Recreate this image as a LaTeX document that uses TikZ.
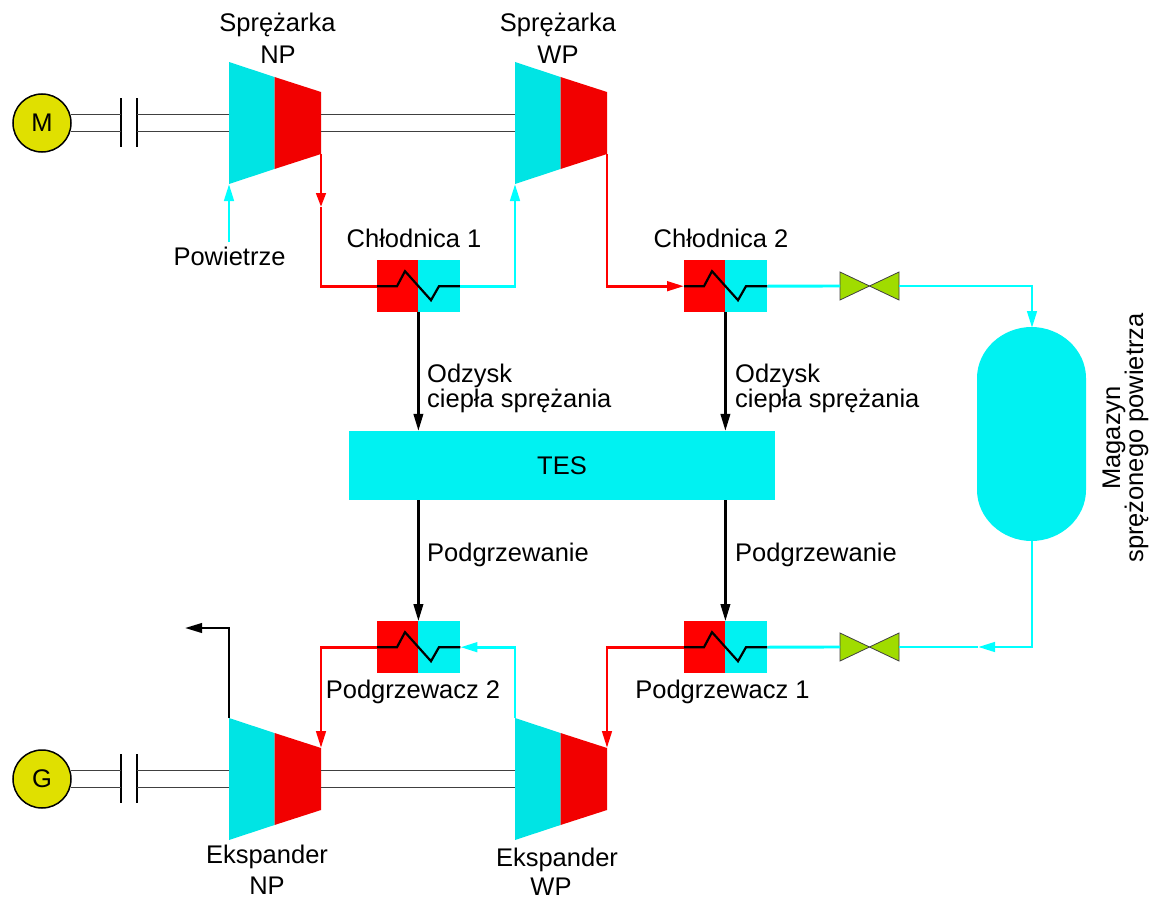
\documentclass[tikz,border=0pt]{standalone}
\usepackage{fontspec}
\setmainfont{Liberation Sans}
\usetikzlibrary{arrows.meta,calc}
\definecolor{tcyan}{HTML}{00E4E4}
\definecolor{tred}{HTML}{F20000}
\definecolor{hred}{HTML}{FF0000}
\definecolor{hcyan}{HTML}{00F2F2}
\definecolor{lcyan}{HTML}{00FFFF}
\definecolor{vgreen}{HTML}{A0DC00}
\definecolor{myellow}{HTML}{E0E000}
\definecolor{shaftc}{HTML}{404040}
\tikzset{
  lbl/.style={anchor=base,inner sep=0,font=\fontsize{25.5}{30}\selectfont},
  lblw/.style={anchor=base west,inner sep=0,font=\fontsize{25.5}{30}\selectfont},
  hxr/.style={fill=hred,minimum width=41pt,minimum height=52pt,inner sep=0,anchor=north west},
  hxc/.style={fill=hcyan,minimum width=42pt,minimum height=52pt,inner sep=0,anchor=north west},
  machine/.style={circle,draw=black,line width=1.5pt,fill=myellow,minimum size=58pt,inner sep=0,font=\fontsize{25.5}{30}\selectfont},
  redline/.style={draw=hred,line width=2.9pt,line join=miter},
  cyline/.style={draw=lcyan,line width=2.9pt,line join=miter},
  blline/.style={draw=black,line width=2.4pt,line join=miter},
  tipr/.style={-{Triangle[length=17pt,width=9.5pt]}},
  tipshort/.style={-{Triangle[length=14pt,width=9.5pt]}},
  shaft/.style={draw=shaftc,line width=1.1pt},
  couple/.style={draw=black,line width=2.4pt},
  zig/.style={draw=black,line width=2.2pt,line join=miter},
  valveside/.style={fill=vgreen,draw=shaftc,line width=.8pt,line join=miter}
}
% turbine stage: name, left x, top y
\newcommand{\turbo}[3]{%
  \coordinate (#1-tl) at (#2,#3);
  \coordinate (#1-bl) at (#2,#3+122);
  \coordinate (#1-tm) at (#2+45.5,#3+15);
  \coordinate (#1-bm) at (#2+45.5,#3+107);
  \coordinate (#1-tr) at (#2+92,#3+30);
  \coordinate (#1-br) at (#2+92,#3+92);
  \fill[tcyan] (#1-tl) -- (#1-tm) -- (#1-bm) -- (#1-bl) -- cycle;
  \fill[tred] (#1-tm) -- (#1-tr) -- (#1-br) -- (#1-bm) -- cycle;
}
% heat exchanger: name, left x, top y
\newcommand{\hx}[3]{%
  \node[hxr] (#1r) at (#2,#3) {};
  \node[hxc] (#1c) at (#2+41,#3) {};
  \draw[zig] (#1r.west) -- ++(20,0) -- ++(8,-15) -- ++(26,29) -- ++(8,-14) -- (#1c.east);
}
% valve: name, centre x, centre y
\newcommand{\valve}[3]{%
  \coordinate (#1) at (#2,#3);
  \coordinate (#1-w) at (#2-29.5,#3);
  \coordinate (#1-e) at (#2+29.5,#3);
  \draw[valveside] (#1) -- (#2-29.5,#3-14) -- (#2-29.5,#3+14) -- cycle;
  \draw[valveside] (#1) -- (#2+29.5,#3-14) -- (#2+29.5,#3+14) -- cycle;
}
\begin{document}
\begin{tikzpicture}[x=1pt,y=-1pt]
\useasboundingbox (0,0) rectangle (1149,899);
% machines
\turbo{cl}{229}{62}
\turbo{ch}{515}{62}
\turbo{el}{229}{718}
\turbo{eh}{515}{718}
\node[machine] (m) at (42,123) {M};
\node[machine] (g) at (42,779) {G};
% couplings
\coordinate (ca1) at (121,123); \coordinate (ca2) at (137,123);
\coordinate (cb1) at (121,779); \coordinate (cb2) at (137,779);
\draw[couple] ($(ca1)+(0,-25)$) -- ($(ca1)+(0,24)$);
\draw[couple] ($(ca2)+(0,-25)$) -- ($(ca2)+(0,24)$);
\draw[couple] ($(cb1)+(0,-25)$) -- ($(cb1)+(0,24)$);
\draw[couple] ($(cb2)+(0,-25)$) -- ($(cb2)+(0,24)$);
% shafts
\foreach \a in {16,-16}{
  \draw[shaft] (m.\a) -- (m.\a -| ca1);
  \draw[shaft] (m.\a -| ca2) -- (m.\a -| cl-tl);
  \draw[shaft] (m.\a -| cl-tr) -- (m.\a -| ch-tl);
  \draw[shaft] (g.\a) -- (g.\a -| cb1);
  \draw[shaft] (g.\a -| cb2) -- (g.\a -| el-tl);
  \draw[shaft] (g.\a -| el-tr) -- (g.\a -| eh-tl);
}
% heat exchangers
\hx{a}{377}{260}
\hx{b}{684}{260}
\hx{c}{377}{621}
\hx{d}{684}{621}
% TES
\node[fill=hcyan,minimum width=426pt,minimum height=69pt,inner sep=0,font=\fontsize{25.5}{30}\selectfont] (tes) at (562,465.5) {TES};
% tank
\fill[hcyan] (977,378) .. controls (977,350) and (1002,327) .. (1031.5,327)
   .. controls (1061,327) and (1086,350) .. (1086,378)
   -- (1086,490) .. controls (1086,518) and (1061,541) .. (1031.5,541)
   .. controls (1002,541) and (977,518) .. (977,490) -- cycle;
\coordinate (tanktop) at (1032,328);
\coordinate (tankbot) at (1032,541);
% valves
\valve{va}{869.5}{286}
\valve{vb}{869.5}{647}
% air inlet
\coordinate (air) at (229,242);
\draw[cyline,tipr] (air) -- (cl-bl);
% compressor LP to cooler 1
\coordinate (r1) at (321,207);
\draw[redline,tipshort] (cl-br) -- (r1);
\draw[redline] (r1) |- (ar.west);
% cooler 1 to HP compressor
\draw[cyline,tipr] (ac.east) -| (ch-bl);
% HP compressor to cooler 2
\draw[redline,tipr] (ch-br) |- (br.west);
% cooler 2 to valve, tank
\draw[cyline] (bc.east) -- (va-w);
\draw[cyline,tipr] (va-e) -| (tanktop);
% tank to lower valve
\coordinate (c2) at (978,647);
\draw[cyline,tipr] (tankbot) |- (c2);
\draw[cyline] (c2) -- (vb-e);
\draw[cyline] (vb-w) -- (dc.east);
% heaters to expanders
\draw[redline,tipr] (dr.west) -| (eh-tr);
\draw[redline,tipr] (cr.west) -| (el-tr);
\draw[cyline,tipr] (eh-tl) |- (cc.east);
% exhaust
\coordinate (exh) at (185,628);
\draw[blline,tipr] (el-tl) |- (exh);
% heat flows
\draw[blline,tipr] (ar.south east) -- (ar.south east |- tes.north);
\draw[blline,tipr] (br.south east) -- (br.south east |- tes.north);
\draw[blline,tipr] (cr.north east |- tes.south) -- (cr.north east);
\draw[blline,tipr] (dr.north east |- tes.south) -- (dr.north east);
% labels
\node[lbl] (t1) at (277.5,32) {Sprężarka};
\node[lbl] (t2) at (278,64) {NP};
\node[lbl] (t3) at (558,32) {Sprężarka};
\node[lbl] (t4) at (558,64) {WP};
\node[lbl] (t5) at (229.5,265) {Powietrze};
\node[lbl] (t6) at (414,247) {Chłodnica 1};
\node[lbl] (t7) at (721,247) {Chłodnica 2};
\node[lblw] (t8) at (427,382) {Odzysk};
\node[lblw] (t9) at (427,407) {ciepła sprężania};
\node[lblw] (t10) at (735,382) {Odzysk};
\node[lblw] (t11) at (735,407) {ciepła sprężania};
\node[lblw] (t12) at (427,561) {Podgrzewanie};
\node[lblw] (t13) at (735,561) {Podgrzewanie};
\node[lbl] (t14) at (413,698) {Podgrzewacz 2};
\node[lbl] (t15) at (722.5,698) {Podgrzewacz 1};
\node[lbl] (t16) at (267,863) {Ekspander};
\node[lbl] (t17) at (267,894) {NP};
\node[lbl] (t18) at (557,866) {Ekspander};
\node[lbl] (t19) at (551,895) {WP};
\node[lbl,rotate=90] (t20) at (1120,438) {Magazyn};
\node[lbl,rotate=90] (t21) at (1143,438) {sprężonego powietrza};
\end{tikzpicture}
\end{document}
